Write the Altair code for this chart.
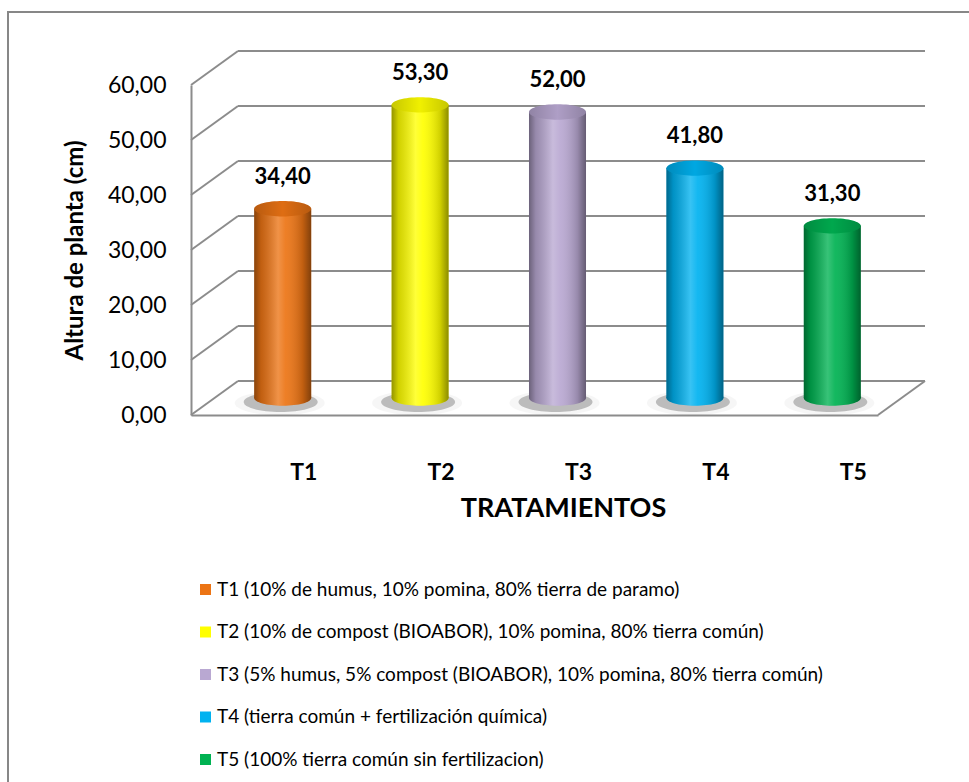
import altair as alt
import pandas as pd

# --- data -------------------------------------------------------------
categories = ["T1", "T2", "T3", "T4", "T5"]
heights = [34.40, 53.30, 52.00, 41.80, 31.30]
descriptions = [
    "T1 (10% de humus, 10% pomina, 80% tierra de paramo)",
    "T2 (10% de compost (BIOABOR), 10% pomina, 80% tierra común)",
    "T3 (5% humus, 5% compost (BIOABOR), 10% pomina, 80% tierra común)",
    "T4 (tierra común + fertilización química)",
    "T5 (100% tierra común sin fertilizacion)",
]
colors = ["#EC7414", "#FFFF00", "#B9A8D2", "#00B2F0", "#00B252"]
y_ticks = [0, 10, 20, 30, 40, 50, 60]

bars = pd.DataFrame({"trat": categories, "altura": heights, "desc": descriptions})
grid = pd.DataFrame({"altura": y_ticks})

# --- geometry of the pseudo-3D box ---------------------------------------
W, H = 687, 330
DX, DY = 47, -34      # depth of back wall
MX, MY = 23, -17      # cylinders stand half way in
CYL = 57              # cylinder diameter
FONT = "Lato"
GRID_COLOR = "#8c8c8c"
ELLIPSE = "M-1,0A1,0.27,0,1,1,1,0A1,0.27,0,1,1,-1,0Z"

x_scale = alt.Scale(domain=categories, paddingInner=0.585, paddingOuter=0.2925)
y_scale = alt.Scale(domain=[0, 60], nice=False)

x_axis = alt.Axis(
    labelAngle=0, ticks=False, grid=False,
    domainColor=GRID_COLOR, domainWidth=2,
    labelFont=FONT, labelFontSize=23, labelFontWeight="bold", labelColor="#000000",
    labelPadding=46, labelOffset=44,
    titleFont=FONT, titleFontSize=27, titleFontWeight="bold", titleColor="#000000",
    titleX=372, titleY=93, titleAlign="center", titleBaseline="middle",
)
y_axis = alt.Axis(
    values=y_ticks, format=".2f", ticks=False, grid=False,
    domainColor=GRID_COLOR, domainWidth=2,
    labelFont=FONT, labelFontSize=23, labelColor="#000000", labelPadding=25,
    titleFont=FONT, titleFontSize=24, titleFontWeight="bold", titleColor="#000000",
    titleX=-116, titleY=165, titleAngle=270, titleAlign="center",
    titleBaseline="middle",
)

X = alt.X("trat:N", scale=x_scale, title="TRATAMIENTOS", axis=x_axis)
Y = alt.Y("altura:Q", scale=y_scale, title="Altura de planta (cm)", axis=y_axis)
Y0 = alt.Y(datum=0, scale=y_scale, title="Altura de planta (cm)", axis=y_axis)
COLOR = alt.Color(
    "desc:N", scale=alt.Scale(domain=descriptions, range=colors),
    legend=alt.Legend(
        title=None, orient="none", legendX=5, legendY=495, padding=0,
        symbolType="square", symbolSize=121, symbolStrokeWidth=0,
        labelFont=FONT, labelFontSize=19, labelColor="#000000", labelLimit=1000,
        labelOffset=2, rowPadding=22.5,
    ),
)
# ellipses take the same hues through a fill scale keyed on the short code
FILL = alt.Fill("trat:N", scale=alt.Scale(domain=categories, range=colors), legend=None)


def grad(stops):
    return alt.Gradient(
        gradient="linear", x1=0, x2=1, y1=0, y2=0,
        stops=[alt.GradientStop(offset=o, color=c) for o, c in stops],
    )


cyl_shade = grad([
    (0.0, "rgba(0,0,0,0.42)"),
    (0.12, "rgba(0,0,0,0.18)"),
    (0.42, "rgba(255,255,255,0.22)"),
    (0.55, "rgba(255,255,255,0.08)"),
    (0.85, "rgba(0,0,0,0.18)"),
    (1.0, "rgba(0,0,0,0.45)"),
])
cap_shade = grad([
    (0.0, "rgba(0,0,0,0.22)"),
    (0.5, "rgba(0,0,0,0.06)"),
    (1.0, "rgba(0,0,0,0.22)"),
])

# outer chart border
frame = alt.Chart(grid).mark_rect(filled=False, stroke="#878787", strokeWidth=2).encode(
    x=alt.value(-183), y=alt.value(-73), x2=alt.value(W + 200), y2=alt.value(H + 500)
)

# back wall gridlines
back = alt.Chart(grid).mark_rule(
    color=GRID_COLOR, strokeWidth=2, xOffset=DX, x2Offset=DX, yOffset=DY, y2Offset=DY
).encode(y=Y, y2="altura", x=alt.value(0), x2=alt.value("width"))

# left wall diagonals
side = alt.Chart(grid).mark_rule(
    color=GRID_COLOR, strokeWidth=2, x2Offset=DX, y2Offset=DY
).encode(y=Y, y2="altura", x=alt.value(0), x2=alt.value(0))

# right edge of the floor
floor_edge = alt.Chart(grid).transform_filter("datum.altura == 0").mark_rule(
    color=GRID_COLOR, strokeWidth=2, x2Offset=DX, y2Offset=DY
).encode(y=Y, y2="altura", x=alt.value("width"), x2=alt.value("width"))

base = alt.Chart(bars)

shadow_outer = base.mark_point(
    shape=ELLIPSE, filled=True, size=90 ** 2, color="#808080", opacity=0.07,
    strokeWidth=0, yOffset=MY + 5, xOffset=MX - 3,
).encode(x=X, y=Y0)

shadow_inner = base.mark_point(
    shape=ELLIPSE, filled=True, size=74 ** 2, color="#505050", opacity=0.35,
    strokeWidth=0, yOffset=MY + 4, xOffset=MX - 2,
).encode(x=X, y=Y0)

bottom = base.mark_point(
    shape=ELLIPSE, filled=True, size=CYL ** 2, opacity=1, strokeWidth=0,
    yOffset=MY, xOffset=MX,
).encode(x=X, y=Y0, fill=FILL)

bottom_shade = base.mark_point(
    shape=ELLIPSE, filled=True, size=CYL ** 2, opacity=1, strokeWidth=0,
    fill=cyl_shade, yOffset=MY, xOffset=MX,
).encode(x=X, y=Y0)

body = base.mark_bar(
    xOffset=MX, x2Offset=MX, yOffset=MY, y2Offset=MY, opacity=1
).encode(x=X, y=Y, color=COLOR)

body_shade = base.mark_bar(
    xOffset=MX, x2Offset=MX, yOffset=MY, y2Offset=MY, fill=cyl_shade
).encode(x=X, y=Y)

top = base.mark_point(
    shape=ELLIPSE, filled=True, size=CYL ** 2, opacity=1, strokeWidth=0,
    yOffset=MY, xOffset=MX,
).encode(x=X, y=Y, fill=FILL)

top_shade = base.mark_point(
    shape=ELLIPSE, filled=True, size=CYL ** 2, opacity=1, strokeWidth=0,
    fill=cap_shade, yOffset=MY, xOffset=MX,
).encode(x=X, y=Y)

labels = base.mark_text(
    font=FONT, fontSize=22, fontWeight="bold", color="#000000",
    baseline="middle", yOffset=MY - 32, xOffset=MX,
).encode(x=X, y=Y, text=alt.Text("altura:Q", format=".2f"))

chart = alt.layer(
    frame, back, side, floor_edge,
    shadow_outer, shadow_inner, bottom, bottom_shade,
    body, body_shade, top, top_shade, labels,
).properties(
    width=W, height=H,
    padding={"left": 191, "top": 85, "right": 91, "bottom": 367},
    autosize=alt.AutoSizeParams(type="none"),
).configure(
    locale={"number": {"decimal": ",", "thousands": ".", "grouping": [3], "currency": ["", " €"]}},
).configure_view(stroke=None)

chart.save("out.html", embed_options={"renderer": "svg", "actions": False})
